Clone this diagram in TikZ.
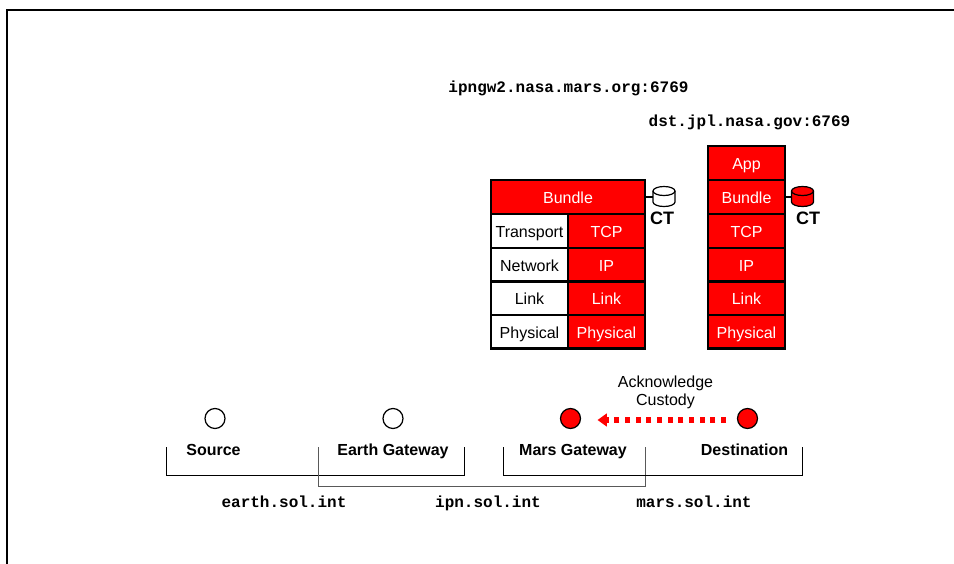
\documentclass[tikz,border=0pt]{standalone}
\usepackage{fontspec}
\setmainfont{Liberation Sans}
\setmonofont{Liberation Mono}
\usetikzlibrary{arrows.meta}
\definecolor{stackred}{RGB}{255,0,0}
\tikzset{
  layer/.style={draw=black,line width=1.9pt,minimum height=25.4pt,inner sep=0pt,font=\fontsize{12}{14}\selectfont,text height=10.6pt,text depth=0.5pt},
  redlayer/.style={layer,fill=stackred,text=white},
  whitelayer/.style={layer,fill=white,text=black},
  hostdot/.style={circle,draw=black,line width=0.9pt,minimum size=15pt,inner sep=0pt},
  hostname/.style={inner sep=0.75pt,font=\fontsize{12}{14}\selectfont\bfseries,text height=10pt,text depth=1.4pt},
  addr/.style={inner sep=0.75pt,font=\fontsize{12}{14}\selectfont\ttfamily\bfseries,text height=9.5pt,text depth=1.2pt},
  diskline/.style={draw=black,line width=0.9pt},
  ctlabel/.style={inner sep=0.75pt,font=\fontsize{13.5}{15}\selectfont\bfseries},
  region/.style={line width=0.75pt}
}
\begin{document}
\begin{tikzpicture}[x=0.75pt,y=0.75pt,yscale=-1,xscale=1]
\useasboundingbox (0,0) rectangle (954,564);

%Frame
\draw [line width=1.6pt] (7,564) -- (7,10) -- (954,10) ;

%Mars gateway stack
\draw (568,197) node (bundleM) [redlayer,minimum width=115.5pt] {Bundle};
\draw (529.5,231) node (transportM) [whitelayer,minimum width=57.75pt] {Transport};
\draw (606.5,231) node (tcpM) [redlayer,minimum width=57.75pt] {TCP};
\draw (529.5,264.75) node (networkM) [whitelayer,minimum width=57.75pt] {Network};
\draw (606.5,264.75) node (ipM) [redlayer,minimum width=57.75pt] {IP};
\draw (529.5,298.25) node (linkM) [whitelayer,minimum width=57.75pt] {Link};
\draw (606.5,298.25) node (linktwoM) [redlayer,minimum width=57.75pt] {Link};
\draw (529.5,331.75) node (physM) [whitelayer,minimum width=57.75pt] {Physical};
\draw (606.5,331.75) node (phystwoM) [redlayer,minimum width=57.75pt] {Physical};

%Destination stack
\draw (746.5,163) node (appD) [redlayer,minimum width=57.75pt] {App};
\draw (746.5,197) node (bundleD) [redlayer,minimum width=57.75pt] {Bundle};
\draw (746.5,231) node (tcpD) [redlayer,minimum width=57.75pt] {TCP};
\draw (746.5,264.75) node (ipD) [redlayer,minimum width=57.75pt] {IP};
\draw (746.5,298.25) node (linkD) [redlayer,minimum width=57.75pt] {Link};
\draw (746.5,331.75) node (physD) [redlayer,minimum width=57.75pt] {Physical};

%Custody stores
\coordinate (diskM) at (653,197);
\coordinate (diskD) at (791.5,197);
\draw [line width=1.5pt] (bundleM) -- (diskM) ;
\draw [line width=1.5pt] (bundleD) -- (diskD) ;
\draw [diskline,fill=white] (653,191) arc [start angle=180,end angle=360,x radius=11,y radius=4.5] -- (675,202) arc [start angle=0,end angle=180,x radius=11,y radius=4.5] -- cycle ;
\draw [diskline] (653,191) arc [start angle=180,end angle=0,x radius=11,y radius=4.5] ;
\draw [diskline,fill=stackred] (791.5,191) arc [start angle=180,end angle=360,x radius=11,y radius=4.5] -- (813.5,202) arc [start angle=0,end angle=180,x radius=11,y radius=4.5] -- cycle ;
\draw [diskline] (791.5,191) arc [start angle=180,end angle=0,x radius=11,y radius=4.5] ;
\draw (662,218.5) node (ctM) [ctlabel] {CT};
\draw (808,218.5) node (ctD) [ctlabel] {CT};

%Endpoint names
\draw (568.5,86.5) node (addrM) [addr] {ipngw2.nasa.mars.org:6769};
\draw (749.5,120.5) node (addrD) [addr] {dst.jpl.nasa.gov:6769};

%Hosts
\draw (215,418.5) node (source) [hostdot,fill=white] {};
\draw (393,418.5) node (earthgw) [hostdot,fill=white] {};
\draw (570.5,418.5) node (marsgw) [hostdot,fill=stackred] {};
\draw (747.5,418.5) node (dest) [hostdot,fill=stackred] {};
\draw (213.5,449.5) node (sourcename) [hostname] {Source};
\draw (393,449.5) node (earthname) [hostname] {Earth Gateway};
\draw (573,449.5) node (marsname) [hostname] {Mars Gateway};
\draw (744.5,449.5) node (destname) [hostname] {Destination};

%Acknowledgement
\draw (665.5,392.5) node (ack) [inner sep=0.75pt,align=center,font=\fontsize{12}{13}\selectfont] {Acknowledge\\Custody};
\coordinate (ackstart) at (726,420);
\coordinate (ackend) at (597.5,420);
\draw [draw=stackred,line width=3.8pt,dash pattern=on 3.75pt off 4.25pt,-{Triangle[length=7pt,width=9.5pt,fill=stackred]}] (ackstart) -- (ackend) ;

%Regions
\coordinate (earthtl) at (166,447);
\coordinate (earthbl) at (166,475);
\coordinate (earthbr) at (464,475);
\coordinate (earthtr) at (464,447);
\draw [region] (earthtl) -- (earthbl) -- (earthbr) -- (earthtr) ;
\coordinate (ipntl) at (318,447);
\coordinate (ipnbl) at (318,486);
\coordinate (ipnbr) at (645,486);
\coordinate (ipntr) at (645,447);
\draw [region,draw=black!65] (ipntl) -- (ipnbl) -- (ipnbr) -- (ipntr) ;
\coordinate (marstl) at (503,447);
\coordinate (marsbl) at (503,475);
\coordinate (marsbr) at (802,475);
\coordinate (marstr) at (802,447);
\draw [region] (marstl) -- (marsbl) -- (marsbr) -- (marstr) ;

%Region names
\draw (284,502) node (earthaddr) [addr] {earth.sol.int};
\draw (488,502) node (ipnaddr) [addr] {ipn.sol.int};
\draw (694,502) node (marsaddr) [addr] {mars.sol.int};

\end{tikzpicture}
\end{document}
